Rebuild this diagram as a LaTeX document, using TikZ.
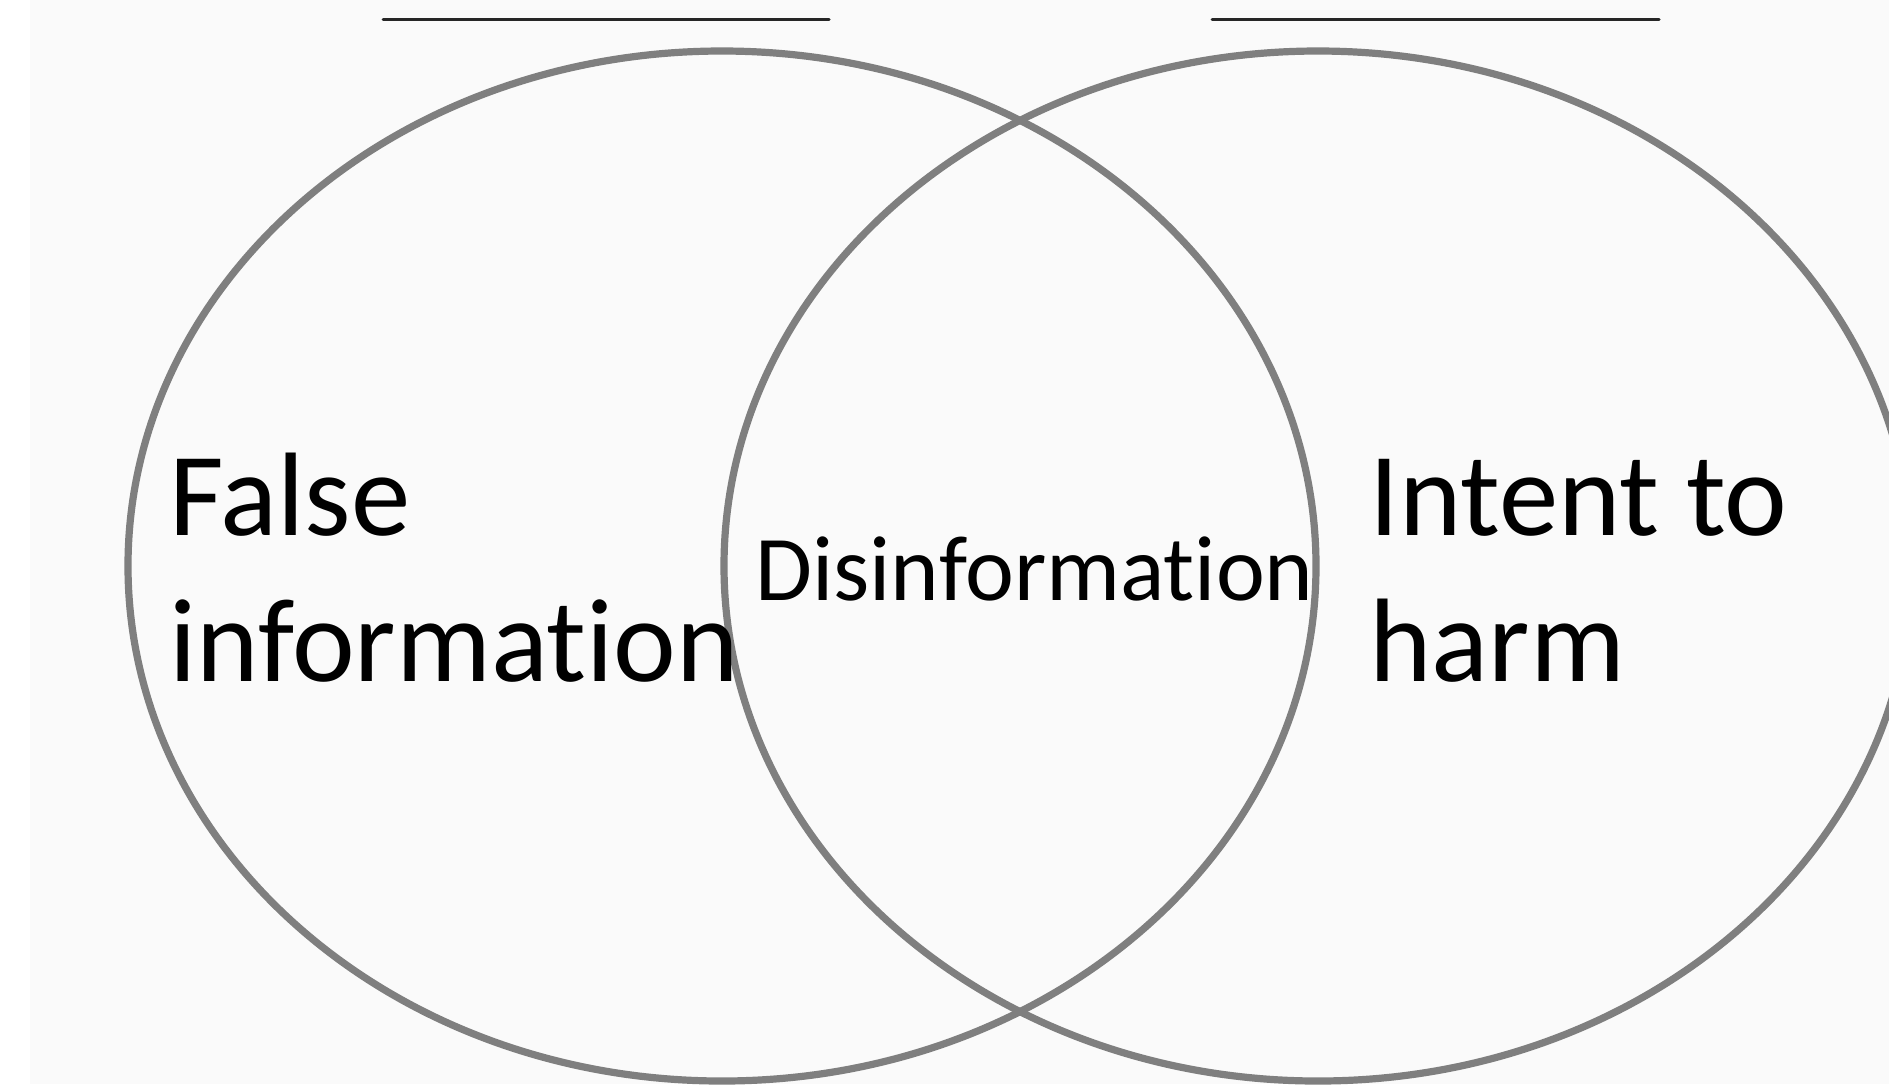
\documentclass[tikz,border=0pt]{standalone}
\usepackage{fontspec}
\setmainfont{Carlito}[Ligatures=NoCommon]
\definecolor{bgpanel}{HTML}{FAFAFA}
\definecolor{ringgray}{HTML}{7F7F7F}
\definecolor{rulegray}{HTML}{262626}
\begin{document}
\begin{tikzpicture}[x=0.5pt,y=-0.5pt,
  ring/.style={draw=ringgray,line width=3.6pt},
  topline/.style={draw=rulegray,line width=1.5pt,line cap=round},
  bigtext/.style={anchor=base west,inner sep=0pt,font=\fontsize{59.4}{73}\selectfont},
  midtext/.style={anchor=base west,inner sep=0pt,font=\fontsize{46.3}{55}\selectfont}]
\useasboundingbox (0,0) rectangle (1889,1084);
\fill[white] (0,0) rectangle (1889,1084);
\fill[bgpanel] (30,0) rectangle (1889,1084);
% top rules
\coordinate (l1a) at (383,19);
\coordinate (l1b) at (829,19);
\coordinate (l2a) at (1212,19);
\coordinate (l2b) at (1659,19);
\draw[topline] (l1a) -- (l1b);
\draw[topline] (l2a) -- (l2b);
% circles
\draw[ring] (722,566) ellipse [x radius=594, y radius=515];
\draw[ring] (1318,566) ellipse [x radius=594, y radius=515];
% labels
\node[bigtext] (falseA) at (169,535) {False};
\node[bigtext] (falseB) at (169,681) {information};
\node[midtext] (dis) at (755,600) {Disinformation};
\node[bigtext] (intA) at (1369,535) {Intent to};
\node[bigtext] (intB) at (1369,681) {harm};
\end{tikzpicture}
\end{document}
